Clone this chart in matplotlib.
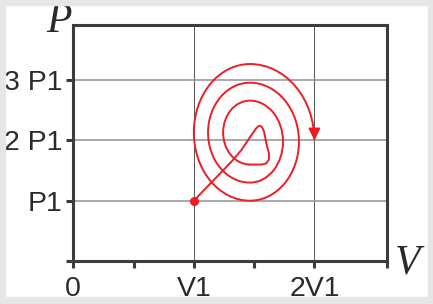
import matplotlib
matplotlib.use("Agg")
import matplotlib.pyplot as plt
from matplotlib.patches import Arc, Rectangle

# tick positions / labels (V in units of V1, P in units of P1)
x_ticks = [0, 0.5, 1, 1.5, 2, 2.6]
x_labels = ["0", "", "V1", "", "2V1", ""]
y_ticks = [0, 1, 2, 3]
y_labels = ["", "P1", "2 P1", "3 P1"]

# start of the process and the path into the inner loop
start_v = [1.0, 1.312, 1.395, 1.478, 1.515, 1.533, 1.548, 1.565, 1.582, 1.602, 1.624, 1.622, 1.60, 1.563, 1.464]
start_p = [1.0, 1.647, 1.841, 2.09, 2.195, 2.232, 2.242, 2.222, 2.15, 1.95, 1.775, 1.68, 1.618, 1.60, 1.60]

# spiral turns
loop_cv = 1.465
loop_tops = [2.66, 2.957, 3.267]
loop_bottoms = [1.60, 1.30, 1.0]
loop_lefts = [1.243, 1.118, 1.0]
loop_rights = [1.74, 1.872, 2.0]
end_v, end_p = 2.0, 2.0

red = "#ee1d23"
frame = "#3c3c3c"
bg = "#e6e6e6"

fig = plt.figure(figsize=(4.33, 3.04), dpi=100)
W, H = 433, 304
ax = fig.add_axes([73.3 / W, 1 - 261 / H, (386.7 - 73.3) / W, (261 - 25) / H])
ax.set_xlim(0, 2.6)
ax.set_ylim(0, 3.914)

# grid
for v in [1, 2]:
    ax.axvline(v, color="#555555", lw=0.7, zorder=1)
for p in [1, 2, 3]:
    ax.axhline(p, color="#999999", lw=1.2, zorder=1)

# path
ax.plot(start_v, start_p, color=red, lw=1.4, solid_joinstyle="round", zorder=3)
for i in range(3):
    bot, top = loop_bottoms[i], loop_tops[i]
    ax.add_patch(Arc((loop_cv, (bot + top) / 2), 2 * (loop_cv - loop_lefts[i]), top - bot,
                     theta1=90, theta2=270, color=red, lw=1.4, zorder=3))
for i in range(2):
    top, bot = loop_tops[i], loop_bottoms[i + 1]
    ax.add_patch(Arc((loop_cv, (bot + top) / 2), 2 * (loop_rights[i] - loop_cv), top - bot,
                     theta1=-90, theta2=90, color=red, lw=1.4, zorder=3))
ax.add_patch(Arc((loop_cv, end_p), 2 * (loop_rights[2] - loop_cv), 2 * (loop_tops[2] - end_p),
                 theta1=0, theta2=90, color=red, lw=1.4, zorder=3))
ax.annotate("", xy=(end_v, end_p), xytext=(end_v, end_p + 0.2),
            arrowprops=dict(arrowstyle="-|>,head_length=0.5,head_width=0.25", color=red,
                            lw=1.4, shrinkA=0, shrinkB=0, mutation_scale=14), zorder=4)
ax.plot([start_v[0]], [start_p[0]], "o", color=red, ms=5.5, zorder=5)

# frame and ticks
for s in ax.spines.values():
    s.set_color(frame)
    s.set_linewidth(2.2)
ax.set_xticks(x_ticks)
ax.set_xticklabels(x_labels)
ax.set_yticks(y_ticks)
ax.set_yticklabels(y_labels)
ax.tick_params(axis="both", direction="out", length=5, width=2.2, color=frame,
               labelsize=20.5, labelcolor="#2a2a2a")
ax.tick_params(axis="x", pad=6.0)
ax.tick_params(axis="y", pad=2.6)
for t in ax.get_xticklabels() + ax.get_yticklabels():
    t.set_family("Liberation Sans")

fig.text(58.5 / W, 1 - 32 / H, "P", family="Liberation Serif", style="italic",
         fontsize=30, ha="center", va="baseline", color="#2a2a2a")
fig.text(408 / W, 1 - 273 / H, "V", family="Liberation Serif", style="italic",
         fontsize=30, ha="center", va="baseline", color="#2a2a2a")

# grey border around the picture
borders = [(0, 0, 5, H), (W - 5, 0, 5, H), (0, 0, W, 5), (0, H - 7, W, 7)]
for bx, by, bw, bh in borders:
    fig.patches.append(Rectangle((bx / W, 1 - (by + bh) / H), bw / W, bh / H,
                                 transform=fig.transFigure, color=bg, zorder=10))

fig.savefig("out.png", dpi=100)
